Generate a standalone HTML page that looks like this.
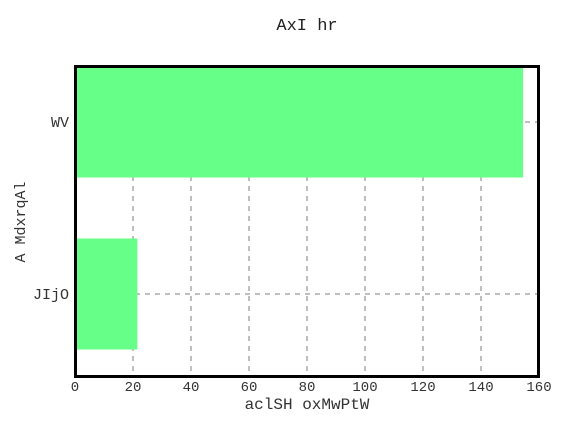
<!DOCTYPE html>
<html><head><meta charset="utf-8"><style>
body{margin:0;background:#fff}
svg{display:block;font-family:"Liberation Mono",monospace}
</style></head><body>
<svg width="568" height="426" viewBox="0 0 568 426" id="c">
<text x="307" y="30" text-anchor="middle" font-size="17" fill="#222">AxI hr</text>
<g id="grid"></g>
<g id="bars"></g>
<rect x="75.5" y="66.5" width="463" height="310" fill="none" stroke="#000" stroke-width="3"/>
<g id="xt"></g>
<g id="yt"></g>
<text x="307" y="409" text-anchor="middle" font-size="16" fill="#333">aclSH oxMwPtW</text>
<text transform="translate(25,222) rotate(-90)" text-anchor="middle" font-size="15" fill="#333">A MdxrqAl</text>
</svg>
<script>
const categories=["JIjO","WV"];
const values=[21.5,154.5];
const xTicks=[0,20,40,60,80,100,120,140,160];
const NS="http://www.w3.org/2000/svg";
const x=v=>75+v*(539-75)/160;
const y=i=>294-i*172;
const bh=111;
function mk(t,a,p){const e=document.createElementNS(NS,t);for(const k in a)e.setAttribute(k,a[k]);p.appendChild(e);return e;}
const g=document.getElementById('grid'),b=document.getElementById('bars'),xt=document.getElementById('xt'),yt=document.getElementById('yt');
xTicks.forEach(t=>{
 if(t>0&&t<160){const l=mk('line',{x1:x(t),x2:x(t),y1:66,y2:377,stroke:'#aaa','stroke-width':1.5,'stroke-dasharray':'5,5'},g);
 
 }
 const tx=mk('text',{x:x(t),y:391,'text-anchor':'middle','font-size':14,fill:'#333'},xt);tx.textContent=t;
 
 
});
categories.forEach((c,i)=>{
 const l=mk('line',{x1:75,x2:539,y1:y(i),y2:y(i),stroke:'#aaa','stroke-width':1.5,'stroke-dasharray':'5,5'},g);
 
 
 const r=mk('rect',{x:x(0),y:y(i)-bh/2,width:x(values[i])-x(0),height:bh,fill:'#66ff88'},b);
 
 
 const tx=mk('text',{x:69,y:y(i)+5,'text-anchor':'end','font-size':15,fill:'#333'},yt);tx.textContent=c;
 
 
});
</script>
</body></html>
